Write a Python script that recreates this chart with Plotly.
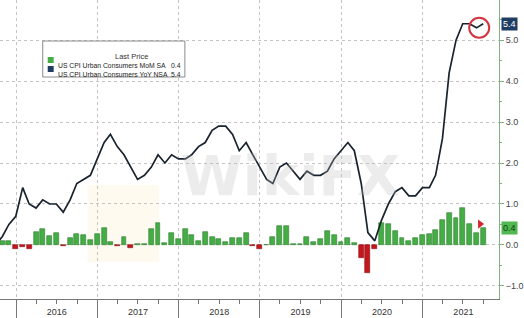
import pandas as pd
import plotly.graph_objects as go

# ---- data (month-end observations) ----
yoy_start = "2015-09"
yoy_values = [0.0, 0.2, 0.5, 0.7,
              1.4, 1.0, 0.9, 1.1, 1.0, 1.0, 0.8, 1.1, 1.5, 1.6, 1.7, 2.1,
              2.5, 2.7, 2.4, 2.2, 1.9, 1.6, 1.7, 1.9, 2.2, 2.0, 2.2, 2.1,
              2.1, 2.2, 2.4, 2.5, 2.8, 2.9, 2.9, 2.7, 2.3, 2.5, 2.2, 1.9,
              1.6, 1.5, 1.9, 2.0, 1.8, 1.6, 1.8, 1.7, 1.7, 1.8, 2.1, 2.3,
              2.5, 2.3, 1.5, 0.3, 0.1, 0.6, 1.0, 1.3, 1.4, 1.2, 1.2, 1.4,
              1.4, 1.7, 2.6, 4.2, 5.0, 5.4, 5.4, 5.3, 5.4]
mom_start = "2015-10"
mom_values = [0.1, 0.1, -0.1,
              -0.05, -0.1, 0.31, 0.38, 0.22, 0.28, -0.03, 0.16, 0.26, 0.24, 0.11, 0.26,
              0.41, 0.08, -0.03, 0.2, -0.07, 0.03, 0.03, 0.38, 0.54, 0.05, 0.28, 0.15,
              0.4, 0.24, 0.09, 0.31, 0.2, 0.14, 0.07, 0.16, 0.18, 0.29, -0.02, -0.1,
              0.0, 0.2, 0.47, 0.47, 0.02, 0.02, 0.19, 0.08, 0.15, 0.33, 0.24, 0.08,
              0.18, 0.04, -0.31, -0.68, -0.09, 0.53, 0.52, 0.35, 0.16, 0.1, 0.18, 0.24,
              0.26, 0.36, 0.61, 0.77, 0.65, 0.89, 0.51, 0.3, 0.41]
series_names = ["US CPI Urban Consumers MoM SA", "US CPI Urban Consumers YoY NSA"]
y_ticks = [-1, 0, 1, 2, 3, 4, 5]
x_range = ["2015-10-21", "2021-12-10"]
y_range = [-1.32, 5.98]

def month_ends(start, n):
    return pd.date_range(start + "-01", periods=n, freq="MS") + pd.offsets.MonthEnd(0)

yoy_dates = month_ends(yoy_start, len(yoy_values))
mom_dates = month_ends(mom_start, len(mom_values))

GREEN = "#45ad45"
GREEN_EDGE = "#2f7d2f"
RED = "#c4161c"
RED_EDGE = "#8a0f12"
NAVY = "#18232f"
TAG_NAVY = "#1f3d63"
GRID = "#c4c4c4"
AX_GREEN = "#7fb27f"
FONT = "Liberation Sans"

fig = go.Figure()
fig.add_trace(go.Bar(
    x=mom_dates, y=mom_values,
    width=22 * 86400000,
    marker=dict(color=[GREEN if v >= 0 else RED for v in mom_values],
                line=dict(color=[GREEN_EDGE if v >= 0 else RED_EDGE for v in mom_values], width=0.6)),
    showlegend=False, hoverinfo="skip"))
fig.add_trace(go.Scatter(
    x=yoy_dates, y=yoy_values, mode="lines",
    line=dict(color=NAVY, width=1.7), showlegend=False, hoverinfo="skip"))

# marker arrow near last bar
fig.add_trace(go.Scatter(
    x=[mom_dates[-1] - pd.Timedelta(days=14)], y=[mom_values[-1] + 0.1], mode="markers",
    marker=dict(symbol="triangle-right", size=8, color="#d32630"),
    showlegend=False, hoverinfo="skip"))

W, H = 502.0, 299.0  # plot area in px
def px(x):
    return x / W
def py(y):
    return 1 - y / H

shapes = []
annotations = []

# red circle around last YoY point
shapes.append(dict(type="circle", xref="x", yref="y",
                   xsizemode="pixel", ysizemode="pixel",
                   xanchor=yoy_dates[-1], yanchor=yoy_values[-1],
                   x0=-14, x1=6, y0=-14, y1=6,
                   line=dict(color="#d4343f", width=2)))

# watermark
shapes.append(dict(type="rect", xref="paper", yref="paper",
                   x0=px(88), x1=px(160), y0=py(262), y1=py(185),
                   fillcolor="rgba(246,222,160,0.16)", line=dict(width=0), layer="below"))
annotations.append(dict(text="<b>WikiFX</b>", xref="paper", yref="paper",
                        x=px(292), y=py(210), showarrow=False,
                        font=dict(family="DejaVu Sans", size=56, color="rgba(185,185,185,0.28)")))

# legend box
shapes.append(dict(type="rect", xref="paper", yref="paper",
                   x0=px(43), x1=px(186), y0=py(77), y1=py(41),
                   fillcolor="white", line=dict(color="#8a8a8a", width=1)))
annotations.append(dict(text="Last Price", xref="paper", yref="paper",
                        x=px(114), y=py(50), showarrow=False,
                        font=dict(family=FONT, size=7.5, color="#333")))
legend_rows = [(series_names[0], mom_values[-1], GREEN, 60),
               (series_names[1], yoy_values[-1], TAG_NAVY, 69)]
for name, val, col, yy in legend_rows:
    shapes.append(dict(type="rect", xref="paper", yref="paper",
                       x0=px(48), x1=px(54), y0=py(yy + 3), y1=py(yy - 3),
                       fillcolor=col, line=dict(width=0)))
    annotations.append(dict(text=name, xref="paper", yref="paper", x=px(56), y=py(yy),
                            xanchor="left", showarrow=False,
                            font=dict(family=FONT, size=6.8, color="#222")))
    annotations.append(dict(text=f"{val:.1f}", xref="paper", yref="paper", x=px(184), y=py(yy),
                            xanchor="right", showarrow=False,
                            font=dict(family=FONT, size=6.8, color="#222")))

# last-value tags on right axis
annotations.append(dict(text=f"{yoy_values[-1]:.1f}", xref="paper", yref="y",
                        x=1.005, y=yoy_values[-1], xanchor="left", showarrow=False,
                        bgcolor=TAG_NAVY, borderpad=1,
                        font=dict(family=FONT, size=9, color="white")))
annotations.append(dict(text=f"{mom_values[-1]:.1f}", xref="paper", yref="y",
                        x=1.005, y=mom_values[-1], xanchor="left", showarrow=False,
                        bgcolor="#4fb84f", borderpad=1,
                        font=dict(family=FONT, size=9, color="#123d12")))

fig.update_layout(
    width=524, height=318,
    margin=dict(l=0, r=22, t=0, b=19),
    paper_bgcolor="white", plot_bgcolor="white",
    bargap=0, showlegend=False,
    shapes=shapes, annotations=annotations,
    font=dict(family=FONT, size=9, color="#333"),
)
fig.update_xaxes(
    type="date", range=x_range,
    tick0="2016-01-01", dtick="M12", tickformat="%Y", ticklabelmode="period",
    ticks="outside", ticklen=19, tickcolor="#777", tickwidth=1,
    ticklabelstandoff=-15,
    showgrid=True, gridcolor=GRID, griddash="dot", gridwidth=1,
    showline=True, linecolor="#777", linewidth=1,
    minor=dict(dtick="M3", tick0="2016-01-01", ticks="outside", ticklen=4,
               tickcolor="#777", showgrid=False),
    tickfont=dict(size=9, color="#333"),
)
fig.update_yaxes(
    side="right", range=y_range, tickvals=y_ticks, tickformat=".1f",
    ticks="outside", ticklen=4, tickcolor=AX_GREEN,
    showgrid=True, gridcolor=GRID, griddash="dot", gridwidth=1,
    zeroline=False, showline=True, linecolor=AX_GREEN, linewidth=1,
    minor=dict(dtick=0.5, ticks="outside", ticklen=2, tickcolor=AX_GREEN, showgrid=False),
    tickfont=dict(size=9, color="#444"),
)

fig.write_html("out.html")
